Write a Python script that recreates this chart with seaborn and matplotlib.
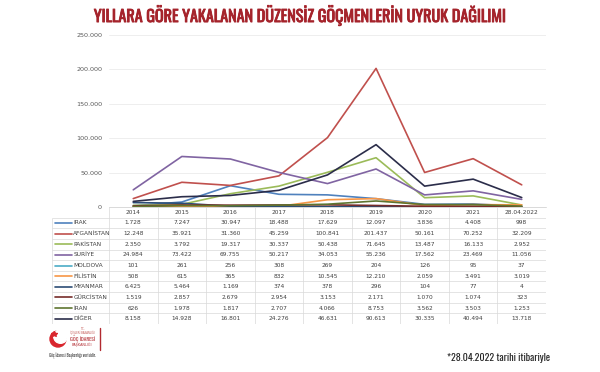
import numpy as np
import pandas as pd
import matplotlib
matplotlib.use("Agg")
import matplotlib.pyplot as plt
import matplotlib.patches as mpatches
import matplotlib.patheffects as pe
import seaborn as sns

# ------------------------------------------------------------
# Data
# ------------------------------------------------------------
periods = ["2014", "2015", "2016", "2017", "2018", "2019", "2020", "2021", "28.04.2022"]
countries = ["IRAK", "AFGANİSTAN", "PAKİSTAN", "SURİYE", "MOLDOVA",
             "FİLİSTİN", "MYANMAR", "GÜRCİSTAN", "İRAN", "DİĞER"]

irak = [1728, 7247, 30947, 18488, 17629, 12097, 3836, 4408, 998]
afganistan = [12248, 35921, 31360, 45259, 100841, 201437, 50161, 70252, 32209]
pakistan = [2350, 3792, 19317, 30337, 50438, 71645, 13487, 16133, 2952]
suriye = [24984, 73422, 69755, 50217, 34053, 55236, 17562, 23469, 11056]
moldova = [101, 261, 256, 308, 269, 204, 126, 95, 37]
filistin = [508, 615, 365, 832, 10545, 12210, 2059, 3491, 3019]
myanmar = [6425, 5464, 1169, 374, 378, 296, 104, 77, 4]
gurcistan = [1519, 2857, 2679, 2954, 3153, 2171, 1070, 1074, 323]
iran = [626, 1978, 1817, 2707, 4066, 8753, 3562, 3503, 1253]
diger = [8158, 14928, 16801, 24276, 46631, 90613, 30335, 40494, 13718]

series = [irak, afganistan, pakistan, suriye, moldova,
          filistin, myanmar, gurcistan, iran, diger]

colors = ["#4F81BD", "#C0504D", "#9BBB59", "#8064A2", "#4BACC6",
          "#F79646", "#2C4D75", "#772C2A", "#5F7530", "#2B2D4A"]
palette = dict(zip(countries, colors))

rows = []
for name, vals in zip(countries, series):
    for i, v in enumerate(vals):
        rows.append({"country": name, "pos": i, "value": v})
df = pd.DataFrame(rows)

def fmt(v):
    return f"{v:,}".replace(",", ".")

# ------------------------------------------------------------
# Figure
# ------------------------------------------------------------
sns.set_style("white")
plt.rcParams["font.family"] = ["DejaVu Sans"]

W, H = 600, 372
fig = plt.figure(figsize=(6, 3.72), dpi=100)

cond = ["Oswald", "DejaVu Sans"]

title_c = "#A5232B"
fig.text(0.5, 1 - 15 / H, "YILLARA GÖRE YAKALANAN DÜZENSİZ GÖÇMENLERİN UYRUK DAĞILIMI",
         ha="center", va="center", fontsize=11.6, fontweight="bold",
         color=title_c, family=cond,
         path_effects=[pe.withStroke(linewidth=0.6, foreground=title_c)])

# main line chart
x0, x1 = 109, 546
ytop, ybot = 35, 207
ax = fig.add_axes([x0 / W, 1 - ybot / H, (x1 - x0) / W, (ybot - ytop) / H])

sns.lineplot(data=df, x="pos", y="value", hue="country", hue_order=countries,
             palette=palette, linewidth=1.2, legend=False, ax=ax)

ax.set_xlim(-0.5, len(periods) - 0.5)
ax.set_ylim(0, 250000)
ax.set_yticks(np.arange(0, 250001, 50000))
ax.set_yticklabels([fmt(int(t)) for t in np.arange(0, 250001, 50000)],
                   fontsize=4.6, color="#595959")
ax.set_xticks(np.arange(-0.5, len(periods), 1))
ax.set_xticklabels([])
ax.tick_params(axis="x", length=3, color="#D9D9D9", direction="out")
ax.tick_params(axis="y", length=0, pad=5)
ax.grid(axis="y", color="#EBEBEB", linewidth=0.6)
ax.set_xlabel("")
ax.set_ylabel("")
for s in ["top", "right", "left"]:
    ax.spines[s].set_visible(False)
ax.spines["bottom"].set_color("#D9D9D9")
ax.spines["bottom"].set_linewidth(0.6)

# data table under the chart
lab_w = (109 - 52) / 48.6
tab_top, tab_bot = 207, 324
tax = fig.add_axes([52 / W, 1 - tab_bot / H, (x1 - 52) / W, (tab_bot - tab_top) / H])
tax.set_xlim(-0.5 - lab_w, len(periods) - 0.5)
tax.set_ylim(len(countries) + 1, 0)
tax.axis("off")

grid_c = "#D9D9D9"
for j, p in enumerate(periods):
    tax.text(j, 0.5, p, ha="center", va="center", fontsize=4.2, color="#404040")
tax.hlines(0, -0.5, len(periods) - 0.5, color=grid_c, lw=0.5)
for k in range(1, len(countries) + 2):
    tax.hlines(k, -0.5 - lab_w, len(periods) - 0.5, color=grid_c, lw=0.5)
tax.vlines(-0.5 - lab_w, 1, len(countries) + 1, color=grid_c, lw=0.5)
for j in range(len(periods) + 1):
    tax.vlines(j - 0.5, 0, len(countries) + 1, color=grid_c, lw=0.5)

for i, (name, vals) in enumerate(zip(countries, series)):
    r = i + 1.5
    tax.plot([-0.5 - lab_w + 0.06, -0.5 - lab_w + 0.42], [r, r],
             color=palette[name], lw=1.2)
    tax.text(-0.5 - lab_w + 0.44, r, name, ha="left", va="center",
             fontsize=4.2, color="#404040")
    for j, v in enumerate(vals):
        tax.text(j, r, fmt(v), ha="center", va="center", fontsize=4.2, color="#404040")

# logo block
lax = fig.add_axes([45 / W, 1 - 362 / H, 70 / W, 38 / H])
lax.set_xlim(0, 70)
lax.set_ylim(38, 0)
lax.axis("off")
lax.add_patch(mpatches.Circle((13, 15), 8, color="#D9262E"))
lax.add_patch(mpatches.Circle((15.5, 12.5), 6.8, color="white"))
lax.plot([9], [10], marker="*", color="#D9262E", markersize=4)
lax.text(37, 7, "T.C.\nİÇİŞLERİ BAKANLIĞI", ha="center", va="center",
         fontsize=1.8, color="#C0504D", linespacing=1.0)
lax.text(37, 15, "GÖÇ İDARESİ", ha="center", va="center", fontsize=3.8,
         color="#B22A30", family=cond)
lax.text(37, 21, "BAŞKANLIĞI", ha="center", va="center", fontsize=2.4,
         color="#B22A30")
lax.plot([55, 55], [4, 26], color="#B22A30", lw=1.0)
lax.text(4, 32, "Göç İdaresi Başkanlığı verisidir.", ha="left", va="center",
         fontsize=3.0, color="#404040", family=cond)

fig.text(550 / W, 1 - 358 / H, "*28.04.2022 tarihi itibariyle", ha="right",
         va="center", fontsize=7.2, color="#262626", family=cond)

fig.savefig("out.png", dpi=100, facecolor="white")
